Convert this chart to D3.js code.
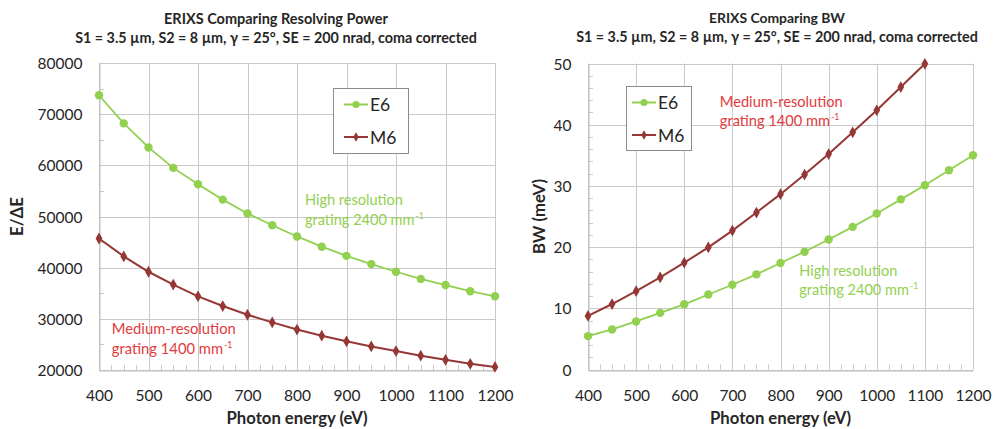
<!DOCTYPE html>
<html>
<head>
<meta charset="utf-8">
<script src="https://cdn.jsdelivr.net/npm/d3@7/dist/d3.min.js"></script>
<style>
  html, body { margin: 0; padding: 0; background: #fff; }
  svg { display: block; font-family: Lato, "Open Sans", sans-serif; }
</style>
</head>
<body>
<svg id="chart" width="1000" height="429"></svg>
<script>
// Photon energies (eV) at which both gratings were evaluated
const energies = [400, 450, 500, 550, 600, 650, 700, 750, 800, 850, 900, 950, 1000, 1050, 1100, 1150, 1200];

// Resolving power E/ΔE
const rpE6 = [73700, 68200, 63500, 59500, 56300, 53300, 50600, 48300, 46100, 44100, 42300, 40700, 39200, 37800, 36600, 35400, 34400];
const rpM6 = [45700, 42200, 39200, 36700, 34400, 32500, 30800, 29300, 27900, 26700, 25600, 24600, 23700, 22800, 22000, 21200, 20600];

// Bandwidth (meV); the M6 curve stops at 1100 eV
const bwE6 = [5.45, 6.55, 7.85, 9.25, 10.65, 12.25, 13.85, 15.55, 17.4, 19.25, 21.25, 23.3, 25.5, 27.8, 30.1, 32.55, 35.0];
const bwM6 = [8.75, 10.7, 12.8, 15.05, 17.45, 19.95, 22.7, 25.65, 28.65, 31.85, 35.2, 38.75, 42.35, 46.15, 49.95];

// Axis ticks
const energyTicks = [400, 500, 600, 700, 800, 900, 1000, 1100, 1200];
const rpTicks = [20000, 30000, 40000, 50000, 60000, 70000, 80000];
const bwTicks = [0, 10, 20, 30, 40, 50];

// Text
const subtitle = "S1 = 3.5 µm, S2 = 8 µm, γ = 25°, SE = 200 nrad, coma corrected";
const seriesNames = ["E6", "M6"];
const highLabel = ["High resolution", "grating 2400 mm", "-1"];
const mediumLabel = ["Medium-resolution", "grating 1400 mm", "-1"];

const GREEN = "#92d050";
const DARKRED = "#953735";
const GREEN_TEXT = "#92d050";
const RED_TEXT = "#e23a3c";
const GRID = "#c9c9c9";
const INK = "#262626";

const svg = d3.select("#chart");
svg.append("rect").attr("width", 1000).attr("height", 429).attr("fill", "#fff");

// Scale a text element's font size so it spans the requested width
function fitWidth(sel, width) {
  const node = sel.node();
  const fs = parseFloat(sel.attr("font-size"));
  const w = node.getComputedTextLength();
  if (w > 0) sel.attr("font-size", (fs * width / w).toFixed(2));
  return sel;
}

function drawPanel(cfg) {
  const g = svg.append("g");
  const x = d3.scaleLinear().domain([400, 1200]).range([cfg.left, cfg.right]);
  const y = d3.scaleLinear().domain(cfg.yDomain).range([cfg.bottom, cfg.top]);

  // plot background
  g.append("rect")
    .attr("x", cfg.left).attr("y", cfg.top)
    .attr("width", cfg.right - cfg.left).attr("height", cfg.bottom - cfg.top)
    .attr("fill", "#fff");

  // gridlines
  g.append("g").selectAll("line").data(energyTicks).join("line")
    .attr("x1", d => Math.round(x(d)) + 0.5).attr("x2", d => Math.round(x(d)) + 0.5)
    .attr("y1", cfg.top).attr("y2", cfg.bottom)
    .attr("stroke", GRID).attr("stroke-width", 1);
  g.append("g").selectAll("line").data(cfg.yTicks).join("line")
    .attr("x1", cfg.left).attr("x2", cfg.right)
    .attr("y1", d => Math.round(y(d)) + 0.5).attr("y2", d => Math.round(y(d)) + 0.5)
    .attr("stroke", GRID).attr("stroke-width", 1);

  // minor tick marks, pointing into the plot
  const xMinor = d3.range(400, 1200.1, 25);
  g.append("g").selectAll("line").data(xMinor).join("line")
    .attr("x1", d => Math.round(x(d)) + 0.5).attr("x2", d => Math.round(x(d)) + 0.5)
    .attr("y1", cfg.bottom).attr("y2", cfg.bottom - 5)
    .attr("stroke", GRID);
  const yMinor = d3.range(cfg.yDomain[0], cfg.yDomain[1] + 1e-9, cfg.yMinorStep);
  g.append("g").selectAll("line").data(yMinor).join("line")
    .attr("x1", cfg.left).attr("x2", cfg.left + 5)
    .attr("y1", d => Math.round(y(d)) + 0.5).attr("y2", d => Math.round(y(d)) + 0.5)
    .attr("stroke", GRID);

  // axes
  const plain = d3.format("d");
  const xAxis = d3.axisBottom(x).tickValues(energyTicks).tickFormat(plain).tickSize(0).tickPadding(0);
  const xa = g.append("g").attr("transform", `translate(0,${Math.round(cfg.bottom) + 0.5})`).call(xAxis);
  xa.select(".domain").attr("stroke", "#bdbdbd");
  xa.selectAll("text").attr("font-size", 15.5).attr("fill", INK)
    .attr("font-family", "Lato, sans-serif").attr("y", 30).attr("dy", 0);

  const yAxis = d3.axisLeft(y).tickValues(cfg.yTicks).tickFormat(plain).tickSize(0).tickPadding(17);
  const ya = g.append("g").attr("transform", `translate(${Math.round(cfg.left) + 0.5},0)`).call(yAxis);
  ya.select(".domain").attr("stroke", "#bdbdbd");
  ya.selectAll("text").attr("font-size", 15.5).attr("fill", INK)
    .attr("font-family", "Lato, sans-serif").attr("dy", "0.36em");

  // titles
  const cx = cfg.titleX;
  fitWidth(g.append("text").attr("x", cx).attr("y", cfg.titleY[0]).attr("text-anchor", "middle")
    .attr("font-weight", 700).attr("font-size", 13).attr("fill", INK).text(cfg.title), cfg.titleW);
  fitWidth(g.append("text").attr("x", cx).attr("y", cfg.titleY[1]).attr("text-anchor", "middle")
    .attr("font-weight", 700).attr("font-size", 13).attr("fill", INK).text(subtitle), 402);

  // axis titles
  fitWidth(g.append("text").attr("x", (cfg.left + cfg.right) / 2).attr("y", cfg.bottom + 54)
    .attr("text-anchor", "middle").attr("font-weight", 700).attr("font-size", 15).attr("fill", INK)
    .text("Photon energy (eV)"), 141);
  fitWidth(g.append("text")
    .attr("transform", `translate(${cfg.yTitleX},${(cfg.top + cfg.bottom) / 2}) rotate(-90)`)
    .attr("text-anchor", "middle").attr("font-weight", 700).attr("font-size", 15).attr("fill", INK)
    .text(cfg.yTitle), cfg.yTitleW);

  // series
  const line = d3.line().x(d => x(d[0])).y(d => y(d[1]));
  const e6 = energies.map((e, i) => [e, cfg.e6[i]]);
  const m6 = cfg.m6.map((v, i) => [energies[i], v]);

  g.append("path").datum(m6).attr("d", line).attr("fill", "none")
    .attr("stroke", DARKRED).attr("stroke-width", 2);
  g.append("g").selectAll("path").data(m6).join("path")
    .attr("d", d3.symbol(d3.symbolDiamond, 40)())
    .attr("transform", d => `translate(${x(d[0])},${y(d[1])})`)
    .attr("fill", DARKRED);

  g.append("path").datum(e6).attr("d", line).attr("fill", "none")
    .attr("stroke", GREEN).attr("stroke-width", 1.8);
  g.append("g").selectAll("circle").data(e6).join("circle")
    .attr("cx", d => x(d[0])).attr("cy", d => y(d[1])).attr("r", 4.2)
    .attr("fill", GREEN);

  // annotations
  const addNote = (lines, color, pos) => {
    const t1 = g.append("text").attr("x", x(pos[0])).attr("y", y(pos[1]))
      .attr("font-size", 15).attr("fill", color).text(lines[0]);
    fitWidth(t1, pos[2]);
    const fs = parseFloat(t1.attr("font-size"));
    const t2 = g.append("text").attr("x", x(pos[0])).attr("y", y(pos[1]) + 19.5)
      .attr("font-size", fs).attr("fill", color);
    t2.append("tspan").text(lines[1]);
    t2.append("tspan").attr("font-size", fs * 0.6).attr("dy", -6).attr("dx", 1).text(lines[2]);
  };
  addNote(highLabel, GREEN_TEXT, cfg.highPos);
  addNote(mediumLabel, RED_TEXT, cfg.mediumPos);

  // legend
  const L = cfg.legend;
  const lg = g.append("g").attr("transform", `translate(${L.x},${L.y})`);
  lg.append("rect").attr("x", 0.5).attr("y", 0.5).attr("width", L.w).attr("height", L.h)
    .attr("fill", "#fff").attr("stroke", "#8c8c8c").attr("stroke-width", 1);
  const rows = [
    { name: seriesNames[0], color: GREEN, dy: 16.5, sym: "circle" },
    { name: seriesNames[1], color: DARKRED, dy: 49, sym: "diamond" }
  ];
  rows.forEach(r => {
    lg.append("line").attr("x1", L.pad).attr("x2", L.pad + 24).attr("y1", r.dy).attr("y2", r.dy)
      .attr("stroke", r.color).attr("stroke-width", 2);
    if (r.sym === "circle") {
      lg.append("circle").attr("cx", L.pad + 12).attr("cy", r.dy).attr("r", 3.6).attr("fill", r.color);
    } else {
      lg.append("path").attr("d", d3.symbol(d3.symbolDiamond, 26)())
        .attr("transform", `translate(${L.pad + 12},${r.dy})`).attr("fill", r.color);
    }
    lg.append("text").attr("x", L.pad + 26).attr("y", r.dy + 6.5)
      .attr("font-size", 17.5).attr("fill", INK).text(r.name);
  });
}

drawPanel({
  left: 99, right: 495, top: 63, bottom: 370,
  yDomain: [20000, 80000], yTicks: rpTicks, yMinorStep: 5000,
  e6: rpE6, m6: rpM6,
  title: "ERIXS Comparing Resolving Power", titleX: 276, titleY: [24, 43], titleW: 224,
  yTitle: "E/ΔE", yTitleX: 23, yTitleW: 39,
  highPos: [816, 52200, 98],
  mediumPos: [426, 27000, 124],
  legend: { x: 333, y: 88, w: 75, h: 65, pad: 11 }
});

drawPanel({
  left: 588, right: 973, top: 63.5, bottom: 369.5,
  yDomain: [0, 50], yTicks: bwTicks, yMinorStep: 2,
  e6: bwE6, m6: bwM6,
  title: "ERIXS Comparing BW", titleX: 777, titleY: [22.5, 41.5], titleW: 136,
  yTitle: "BW (meV)", yTitleX: 545, yTitleW: 75,
  highPos: [839, 15.3, 98],
  mediumPos: [674, 42.9, 123],
  legend: { x: 626, y: 86, w: 65, h: 64, pad: 6 }
});
</script>
</body>
</html>
